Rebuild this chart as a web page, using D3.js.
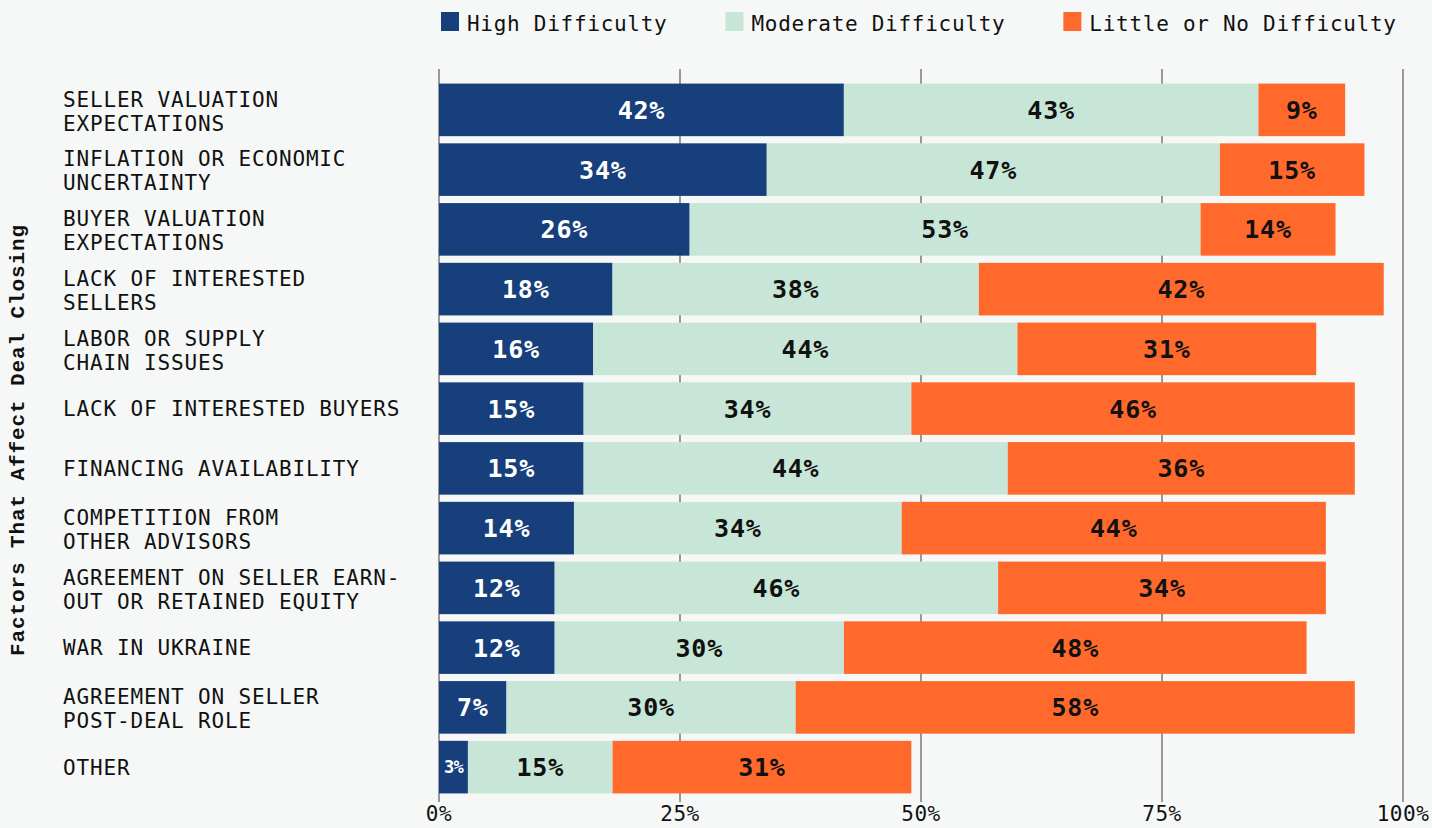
<!DOCTYPE html>
<html>
<head>
<meta charset="utf-8">
<script src="https://cdn.jsdelivr.net/npm/d3@7/dist/d3.min.js"></script>
<style>
  html, body { margin: 0; padding: 0; background: #f6f8f7; }
  svg { display: block; }
</style>
</head>
<body>
<svg id="chart" width="1432" height="828"></svg>
<script>
// Factors that affect deal closing, share of respondents by difficulty level
const categories = [
  ["SELLER VALUATION", "EXPECTATIONS"],
  ["INFLATION OR ECONOMIC", "UNCERTAINTY"],
  ["BUYER VALUATION", "EXPECTATIONS"],
  ["LACK OF INTERESTED", "SELLERS"],
  ["LABOR OR SUPPLY", "CHAIN ISSUES"],
  ["LACK OF INTERESTED BUYERS"],
  ["FINANCING AVAILABILITY"],
  ["COMPETITION FROM", "OTHER ADVISORS"],
  ["AGREEMENT ON SELLER EARN-", "OUT OR RETAINED EQUITY"],
  ["WAR IN UKRAINE"],
  ["AGREEMENT ON SELLER", "POST-DEAL ROLE"],
  ["OTHER"]
];
const highDifficulty     = [42, 34, 26, 18, 16, 15, 15, 14, 12, 12, 7, 3];
const moderateDifficulty = [43, 47, 53, 38, 44, 34, 44, 34, 46, 30, 30, 15];
const littleDifficulty   = [9, 15, 14, 42, 31, 46, 36, 44, 34, 48, 58, 31];
const seriesNames = ["High Difficulty", "Moderate Difficulty", "Little or No Difficulty"];
const seriesColors = ["#173f7c", "#c8e6d7", "#ff6a2c"];
const labelColors = ["#ffffff", "#111111", "#111111"];
const tickValues = [0, 25, 50, 75, 100];
const axisTitle = "Factors That Affect Deal Closing";

const svg = d3.select("#chart");
const monoFont = "'DejaVu Sans Mono', 'Liberation Mono', monospace";

const left = 439, right = 1403;
const x = d3.scaleLinear().domain([0, 100]).range([left, right]);
const y = d3.scaleBand()
  .domain(d3.range(categories.length))
  .range([80, 797])
  .paddingInner(0.12)
  .paddingOuter(0.06);

// Build stacked rows
const rows = categories.map((c, i) => ({
  i,
  high: highDifficulty[i],
  moderate: moderateDifficulty[i],
  little: littleDifficulty[i]
}));
const stack = d3.stack().keys(["high", "moderate", "little"]);
const stacked = stack(rows);

// Vertical gridlines
svg.append("g").selectAll("line")
  .data(tickValues)
  .join("line")
  .attr("x1", d => x(d)).attr("x2", d => x(d))
  .attr("y1", 69).attr("y2", 802)
  .attr("stroke", "#999999")
  .attr("stroke-width", 2);

// Tick labels
svg.append("g").selectAll("text")
  .data(tickValues)
  .join("text")
  .attr("x", d => x(d))
  .attr("y", 821)
  .attr("text-anchor", "middle")
  .attr("font-family", monoFont)
  .attr("font-size", 21)
  .attr("letter-spacing", 0.5)
  .attr("fill", "#111")
  .text(d => d + "%");

// Bars
const layers = svg.append("g").selectAll("g")
  .data(stacked)
  .join("g")
  .attr("fill", (d, k) => seriesColors[k]);

layers.selectAll("rect")
  .data(d => d)
  .join("rect")
  .attr("x", d => x(d[0]))
  .attr("width", d => x(d[1]) - x(d[0]))
  .attr("y", (d, i) => y(i))
  .attr("height", y.bandwidth());

// Value labels in each segment
stacked.forEach((layer, k) => {
  svg.append("g").selectAll("text")
    .data(layer)
    .join("text")
    .attr("x", d => (x(d[0]) + x(d[1])) / 2)
    .attr("y", (d, i) => y(i) + y.bandwidth() / 2)
    .attr("dy", "0.36em")
    .attr("text-anchor", "middle")
    .attr("font-family", monoFont)
    .attr("font-weight", "bold")
    .attr("font-size", d => (x(d[1]) - x(d[0]) < 40 ? 17 : 25))
    .attr("letter-spacing", d => (x(d[1]) - x(d[0]) < 40 ? -0.8 : 0.8))
    .attr("fill", labelColors[k])
    .text(d => (d[1] - d[0]) + "%");
});

// Category labels
const catG = svg.append("g");
categories.forEach((lines, i) => {
  const cy = y(i) + y.bandwidth() / 2;
  const n = lines.length;
  lines.forEach((line, j) => {
    const capMid = cy + (j - (n - 1) / 2) * 24 + (n > 1 ? 1 : 0);
    catG.append("text")
      .attr("x", 63)
      .attr("y", capMid + 7.7)
      .attr("font-family", monoFont)
      .attr("font-size", 21)
      .attr("letter-spacing", 0.85)
      .attr("fill", "#111")
      .text(line);
  });
});

// Axis title
svg.append("text")
  .attr("transform", "translate(24,440) rotate(-90)")
  .attr("text-anchor", "middle")
  .attr("font-family", "'Liberation Mono', 'DejaVu Sans Mono', monospace")
  .attr("font-weight", "bold")
  .attr("font-size", 21)
  .attr("letter-spacing", 0.9)
  .attr("fill", "#111")
  .text(axisTitle);

// Legend
const legend = svg.append("g");
let lx = 441;
seriesNames.forEach((name, k) => {
  legend.append("rect")
    .attr("x", lx).attr("y", 12)
    .attr("width", 18).attr("height", 19)
    .attr("fill", seriesColors[k]);
  const t = legend.append("text")
    .attr("x", lx + 26)
    .attr("y", 31)
    .attr("font-family", monoFont)
    .attr("font-size", 21)
    .attr("letter-spacing", 0.72)
    .attr("fill", "#111")
    .text(name);
  lx += 26 + t.node().getComputedTextLength() + 58;
});
</script>
</body>
</html>
